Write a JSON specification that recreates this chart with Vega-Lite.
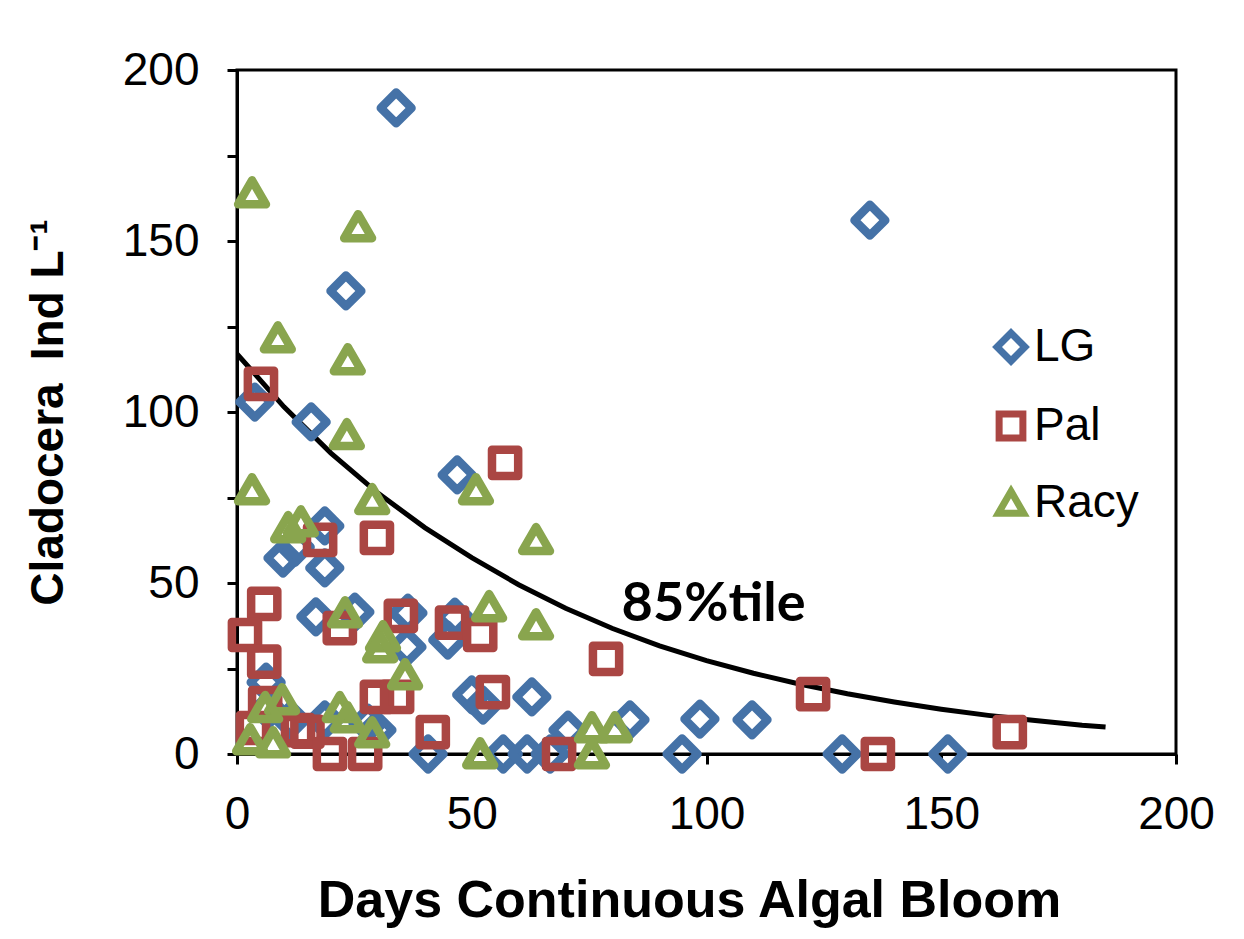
{
  "$schema": "https://vega.github.io/schema/vega-lite/v6.json",
  "width": 939,
  "height": 684,
  "autosize": {"type": "none"},
  "padding": {"left": 237, "top": 70, "right": 68, "bottom": 185},
  "background": "white",
  "config": {
    "view": {"stroke": "black", "strokeWidth": 3},
    "font": "Liberation Sans",
    "axis": {
      "grid": false,
      "domainColor": "black",
      "domainWidth": 3,
      "tickColor": "black",
      "tickWidth": 3,
      "tickSize": 10,
      "labelColor": "black",
      "labelFont": "Liberation Sans",
      "labelFontSize": 46,
      "titleColor": "black",
      "titleFont": "Liberation Sans",
      "titleFontWeight": "bold"
    },
    "legend": {
      "orient": "none",
      "legendX": 751,
      "legendY": 254,
      "padding": 0,
      "labelFontSize": 46,
      "labelFont": "Liberation Sans",
      "labelColor": "black",
      "labelOffset": 0,
      "symbolSize": 600,
      "symbolStrokeWidth": 7,
      "rowPadding": 25
    }
  },
  "datasets": {
    "curve": [
      {"x": 0, "y": 117}, {"x": 10, "y": 101.5}, {"x": 20, "y": 88}, {"x": 30, "y": 76.3},
      {"x": 40, "y": 66.2}, {"x": 50, "y": 57.4}, {"x": 60, "y": 49.5}, {"x": 70, "y": 42.6},
      {"x": 80, "y": 36.7}, {"x": 90, "y": 31.6}, {"x": 100, "y": 27.3}, {"x": 110, "y": 23.6},
      {"x": 120, "y": 20.4}, {"x": 130, "y": 17.6}, {"x": 140, "y": 15.2}, {"x": 150, "y": 13.1},
      {"x": 160, "y": 11.3}, {"x": 170, "y": 9.8}, {"x": 180, "y": 8.4}, {"x": 185, "y": 7.9}
    ],
    "label": [{"x": 101.5, "y": 43.5, "text": "85%tile"}],
    "points": [
      {"site": "LG", "x": 33.9, "y": 188.9}, {"site": "LG", "x": 134.8, "y": 156.1},
      {"site": "LG", "x": 23.2, "y": 135.4}, {"site": "LG", "x": 3.8, "y": 102.9},
      {"site": "LG", "x": 15.8, "y": 97.1}, {"site": "LG", "x": 46.9, "y": 81.6},
      {"site": "LG", "x": 18.7, "y": 66.7}, {"site": "LG", "x": 12.4, "y": 60.5},
      {"site": "LG", "x": 9.8, "y": 57.3}, {"site": "LG", "x": 18.7, "y": 54.4},
      {"site": "LG", "x": 16.8, "y": 40.1}, {"site": "LG", "x": 25.1, "y": 41.5},
      {"site": "LG", "x": 36.4, "y": 41.2}, {"site": "LG", "x": 36.2, "y": 31.3},
      {"site": "LG", "x": 46.4, "y": 40}, {"site": "LG", "x": 44.9, "y": 33.3},
      {"site": "LG", "x": 50, "y": 17.3}, {"site": "LG", "x": 52.4, "y": 14.3},
      {"site": "LG", "x": 62.8, "y": 16.7}, {"site": "LG", "x": 6.2, "y": 21},
      {"site": "LG", "x": 6.6, "y": 12.9}, {"site": "LG", "x": 11.5, "y": 10},
      {"site": "LG", "x": 18.7, "y": 10}, {"site": "LG", "x": 27.9, "y": 9},
      {"site": "LG", "x": 29.8, "y": 7}, {"site": "LG", "x": 40.7, "y": 0},
      {"site": "LG", "x": 56.7, "y": 0}, {"site": "LG", "x": 61.8, "y": 0},
      {"site": "LG", "x": 66.7, "y": 0}, {"site": "LG", "x": 94.8, "y": 0},
      {"site": "LG", "x": 70.5, "y": 7}, {"site": "LG", "x": 83.7, "y": 10},
      {"site": "LG", "x": 98.6, "y": 10.2}, {"site": "LG", "x": 109.7, "y": 10},
      {"site": "LG", "x": 128.9, "y": 0}, {"site": "LG", "x": 151.4, "y": 0},
      {"site": "Pal", "x": 5.1, "y": 108.2}, {"site": "Pal", "x": 57.1, "y": 85.1},
      {"site": "Pal", "x": 17.7, "y": 62.6}, {"site": "Pal", "x": 29.8, "y": 63.2},
      {"site": "Pal", "x": 5.8, "y": 43.9}, {"site": "Pal", "x": 1.7, "y": 34.8},
      {"site": "Pal", "x": 5.8, "y": 27}, {"site": "Pal", "x": 21.9, "y": 36.8},
      {"site": "Pal", "x": 34.9, "y": 40.4}, {"site": "Pal", "x": 45.8, "y": 38.4},
      {"site": "Pal", "x": 51.8, "y": 34.8}, {"site": "Pal", "x": 54.5, "y": 18.1},
      {"site": "Pal", "x": 29.8, "y": 16.7}, {"site": "Pal", "x": 34.1, "y": 16.7},
      {"site": "Pal", "x": 41.7, "y": 6.4}, {"site": "Pal", "x": 6, "y": 14.9},
      {"site": "Pal", "x": 3.4, "y": 7.6}, {"site": "Pal", "x": 13, "y": 7},
      {"site": "Pal", "x": 15, "y": 6.5}, {"site": "Pal", "x": 19.8, "y": 0},
      {"site": "Pal", "x": 27.3, "y": 0}, {"site": "Pal", "x": 78.6, "y": 27.8},
      {"site": "Pal", "x": 122.7, "y": 17.5}, {"site": "Pal", "x": 68.6, "y": 0},
      {"site": "Pal", "x": 136.5, "y": 0}, {"site": "Pal", "x": 164.6, "y": 6.4},
      {"site": "Racy", "x": 3.2, "y": 164}, {"site": "Racy", "x": 25.8, "y": 154.1},
      {"site": "Racy", "x": 8.7, "y": 121.6}, {"site": "Racy", "x": 23.6, "y": 115.2},
      {"site": "Racy", "x": 23.4, "y": 93.3}, {"site": "Racy", "x": 3.2, "y": 77.2},
      {"site": "Racy", "x": 50.9, "y": 77.2}, {"site": "Racy", "x": 28.8, "y": 74.3},
      {"site": "Racy", "x": 63.7, "y": 62.6}, {"site": "Racy", "x": 10.9, "y": 66.1},
      {"site": "Racy", "x": 13.6, "y": 67.8}, {"site": "Racy", "x": 53.7, "y": 43},
      {"site": "Racy", "x": 63.7, "y": 37.7}, {"site": "Racy", "x": 23, "y": 41.2},
      {"site": "Racy", "x": 31.1, "y": 34.2}, {"site": "Racy", "x": 30.5, "y": 31},
      {"site": "Racy", "x": 35.8, "y": 23.1}, {"site": "Racy", "x": 9.6, "y": 15.8},
      {"site": "Racy", "x": 6, "y": 13.5}, {"site": "Racy", "x": 2.8, "y": 4.1},
      {"site": "Racy", "x": 7.7, "y": 3.2}, {"site": "Racy", "x": 21.9, "y": 13.5},
      {"site": "Racy", "x": 23.6, "y": 10.5}, {"site": "Racy", "x": 28.8, "y": 6.1},
      {"site": "Racy", "x": 51.8, "y": 0}, {"site": "Racy", "x": 75.6, "y": 7.6},
      {"site": "Racy", "x": 80.5, "y": 7.6}, {"site": "Racy", "x": 75.6, "y": 0}
    ]
  },
  "encoding": {
    "x": {
      "field": "x", "type": "quantitative",
      "scale": {"domain": [0, 200], "nice": false, "zero": false},
      "axis": {
        "values": [0, 50, 100, 150, 200],
        "title": "Days Continuous Algal Bloom",
        "titleFontSize": 52,
        "titlePadding": 38,
        "titleX": 452,
        "labelPadding": 28,
        "labelFlush": false
      }
    },
    "y": {
      "field": "y", "type": "quantitative",
      "scale": {"domain": [0, 200], "nice": false, "zero": false},
      "axis": {
        "values": [0, 25, 50, 75, 100, 125, 150, 175, 200],
        "labelExpr": "datum.value % 50 === 0 ? datum.label : ''",
        "title": "Cladocera\u2002Ind L⁻¹",
        "titleFontSize": 46,
        "titlePadding": 50,
        "labelPadding": 28,
        "labelFlush": false
      }
    }
  },
  "layer": [
    {
      "data": {"name": "curve"},
      "mark": {"type": "line", "color": "black", "strokeWidth": 5, "clip": true}
    },
    {
      "data": {"name": "points"},
      "mark": {"type": "point", "filled": false, "strokeWidth": 8.5, "opacity": 1, "strokeJoin": "round", "size": 729, "clip": false},
      "encoding": {
        "color": {
          "field": "site", "type": "nominal",
          "scale": {"domain": ["LG", "Pal", "Racy"], "range": ["#4572A7", "#AA4643", "#89A54E"]},
          "legend": {"title": null}
        },
        "shape": {
          "field": "site", "type": "nominal",
          "scale": {"domain": ["LG", "Pal", "Racy"], "range": ["M -1.14 0 L 0 -1.14 L 1.14 0 L 0 1.14 Z", "M -0.97 -0.97 L 0.97 -0.97 L 0.97 0.97 L -0.97 0.97 Z", "M 0 -0.95 L 1.03 0.83 L -1.03 0.83 Z"]},
          "legend": {"title": null}
        }
      }
    },
    {
      "data": {"name": "label"},
      "mark": {"type": "text", "font": "Lato", "fontWeight": "bold", "fontSize": 54, "color": "black", "align": "center", "baseline": "middle"},
      "encoding": {"text": {"field": "text", "type": "nominal"}}
    }
  ]
}
